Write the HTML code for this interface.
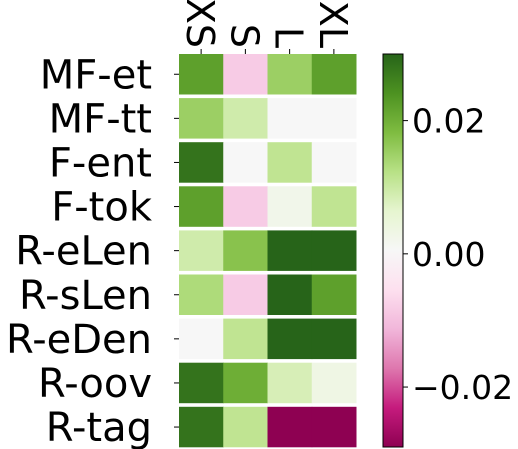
<!DOCTYPE html>
<html><head><meta charset="utf-8"><style>
html,body{margin:0;padding:0;background:#fff;}
svg{display:block;font-family:"DejaVu Sans","Liberation Sans",sans-serif;}
</style></head><body>
<svg id="chart" width="518" height="449" viewBox="0 0 518 449" xmlns="http://www.w3.org/2000/svg">
<defs>
<linearGradient id="cbg" x1="0" y1="1" x2="0" y2="0">
<stop offset="0" stop-color="#8e0152"/><stop offset="0.1" stop-color="#c51b7d"/><stop offset="0.2" stop-color="#de77ae"/><stop offset="0.3" stop-color="#f1b6da"/><stop offset="0.4" stop-color="#fde0ef"/><stop offset="0.5" stop-color="#f7f7f7"/><stop offset="0.6" stop-color="#e6f5d0"/><stop offset="0.7" stop-color="#b8e186"/><stop offset="0.8" stop-color="#7fbc41"/><stop offset="0.9" stop-color="#4d9221"/><stop offset="1" stop-color="#276419"/>
</linearGradient>
</defs>
<g id="cells"></g>
<g id="labels"></g>
<rect x="383" y="54" width="20" height="393" fill="url(#cbg)" stroke="#000" stroke-width="1"/>
<g id="cbticks"></g>
</svg>
<script>
const cols = ["XS","S","L","XL"];
const rows = ["MF-et","MF-tt","F-ent","F-tok","R-eLen","R-sLen","R-eDen","R-oov","R-tag"];
const values = [
 [0.022,-0.009,0.015,0.022],
 [0.015,0.009,0,0],
 [0.028,0,0.011,0],
 [0.022,-0.009,0.002,0.011],
 [0.009,0.017,0.030,0.030],
 [0.013,-0.009,0.030,0.022],
 [0,0.011,0.030,0.030],
 [0.028,0.020,0.008,0.003],
 [0.028,0.011,-0.030,-0.030]
];
const cbTicks = [0.02,0.00,-0.02];
const cbTickLabels = ["0.02","0.00","\u22120.02"];
const vmin=-0.029, vmax=0.030;
const stops=["#8e0152","#c51b7d","#de77ae","#f1b6da","#fde0ef","#f7f7f7","#e6f5d0","#b8e186","#7fbc41","#4d9221","#276419"];
function hex(h){return [1,3,5].map(i=>parseInt(h.substr(i,2),16));}
function color(v){
  let t=(v+0.03)/0.06; t=Math.max(0,Math.min(1,t));
  const p=t*10, i=Math.min(9,Math.floor(p)), f=p-i;
  const a=hex(stops[i]), b=hex(stops[i+1]);
  return "rgb("+a.map((c,k)=>Math.round(c+(b[k]-c)*f)).join(",")+")";
}
const X0=179, CW=44.25, Y0=54, RP=44.1, RH=40.5;
const xPos=j=>X0+j*CW, yPos=i=>Y0+i*RP;
const cbY=v=>54+(vmax-v)/(vmax-vmin)*393;
const NS="http://www.w3.org/2000/svg";
const cells=document.getElementById("cells"), labels=document.getElementById("labels"), cbt=document.getElementById("cbticks");
function mk(tag,attrs,parent){const e=document.createElementNS(NS,tag);for(const k in attrs)e.setAttribute(k,attrs[k]);parent.appendChild(e);return e;}
values.forEach((row,i)=>{
  row.forEach((v,j)=>{
    const r=mk("rect",{x:xPos(j),y:yPos(i),width:CW+0.5,height:RH,fill:color(v)},cells);
    
    
  });
  const cy=yPos(i)+RH/2;
  mk("line",{x1:174,x2:179,y1:cy,y2:cy,stroke:"#000","stroke-width":1},labels);
  const t=mk("text",{x:152,y:cy+14,"text-anchor":"end","font-size":"40"},labels);
  t.textContent=rows[i];
  
  
});
cols.forEach((c,j)=>{
  const cx=xPos(j)+CW/2;
  mk("line",{x1:cx,x2:cx,y1:49,y2:54,stroke:"#000","stroke-width":1},labels);
  const t=mk("text",{x:0,y:0,"text-anchor":"end","font-size":"38",transform:"translate("+(cx-14)+",48) rotate(90)"},labels);
  t.textContent=c;
  
  
});
cbTicks.forEach((v,k)=>{
  const y=cbY(v);
  mk("line",{x1:403,x2:408,y1:y,y2:y,stroke:"#000","stroke-width":1},cbt);
  const t=mk("text",{x:412,y:y+12,"font-size":"33"},cbt);
  t.textContent=cbTickLabels[k];
  
  
});
</script>
</body></html>
